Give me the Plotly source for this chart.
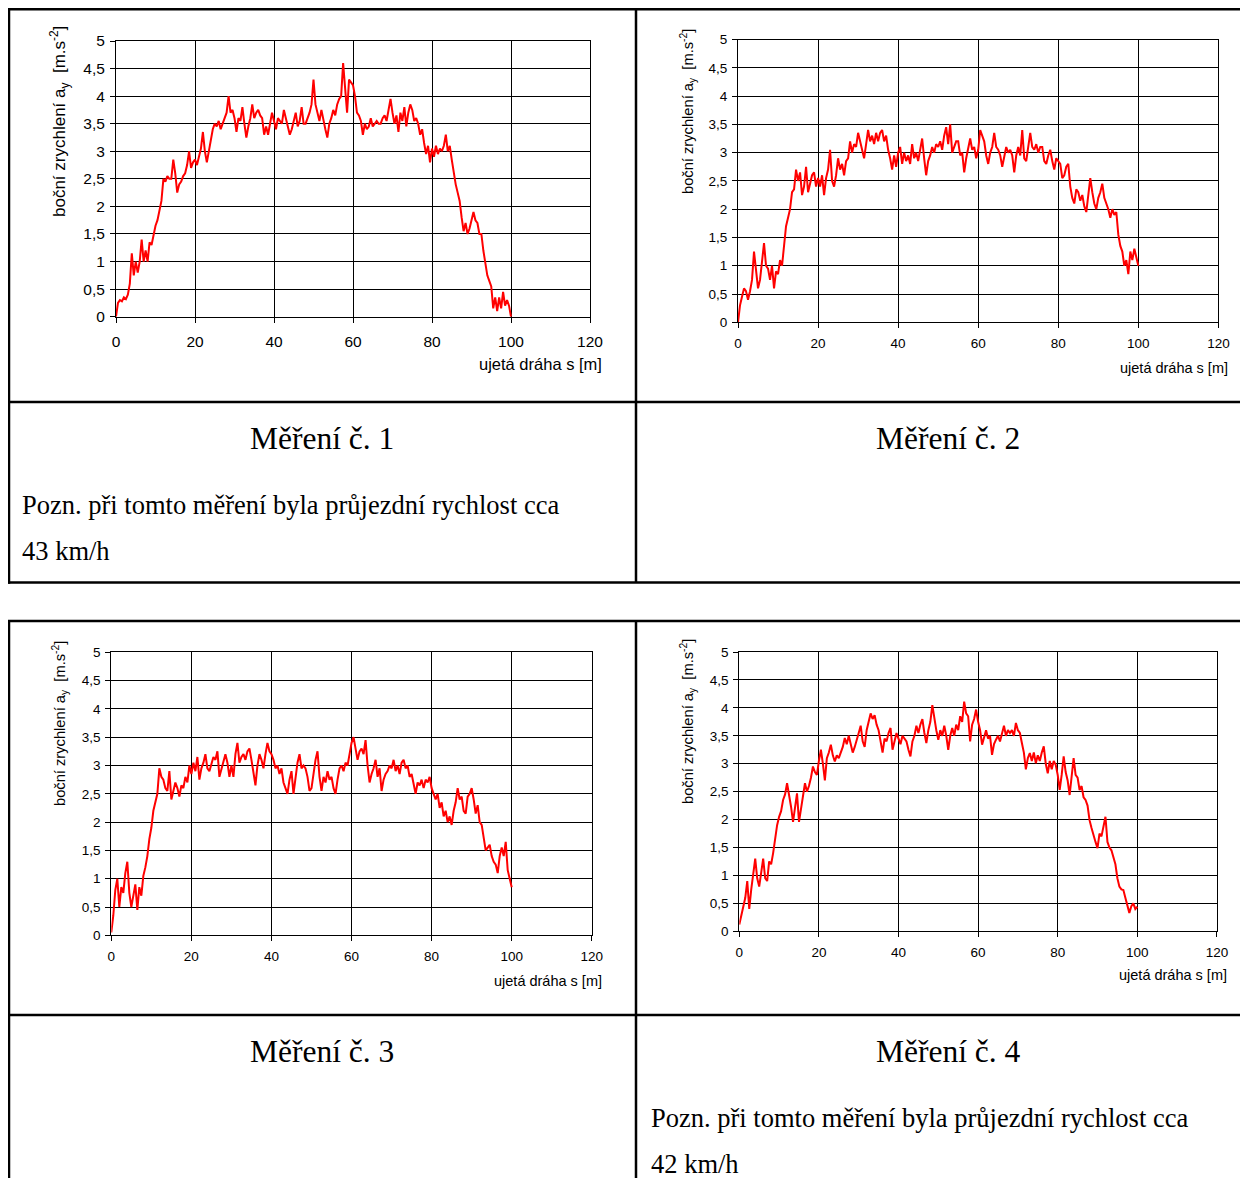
import plotly.graph_objects as go

# ---------------- data ----------------
S_M = [i * 0.5 for i in range(201)]  # ujetá dráha s [m], sample grid

AY_1 = [
    0.0, 0.25, 0.3, 0.28, 0.35, 0.32, 0.4, 0.6, 1.15, 0.75,
    1.0, 0.8, 1.0, 1.4, 1.0, 1.2, 1.0, 1.35, 1.3, 1.5,
    1.65, 1.75, 1.9, 2.1, 2.5, 2.45, 2.55, 2.5, 2.5, 2.85,
    2.6, 2.25, 2.4, 2.45, 2.55, 2.6, 2.75, 3.0, 2.7, 2.8,
    2.85, 2.75, 2.9, 3.05, 3.35, 3.0, 2.8, 3.0, 3.2, 3.4,
    3.5, 3.45, 3.55, 3.4, 3.5, 3.6, 3.7, 4.0, 3.7, 3.75,
    3.6, 3.35, 3.6, 3.55, 3.8, 3.5, 3.25, 3.45, 3.6, 3.85,
    3.6, 3.7, 3.75, 3.65, 3.6, 3.3, 3.45, 3.3, 3.5, 3.7,
    3.55, 3.4, 3.6, 3.55, 3.5, 3.75, 3.6, 3.45, 3.3, 3.4,
    3.55, 3.7, 3.45, 3.55, 3.8, 3.5, 3.5, 3.6, 3.7, 3.85,
    4.3, 3.85, 3.7, 3.55, 3.75, 3.55, 3.4, 3.25, 3.5, 3.6,
    3.75, 3.65, 3.85, 3.95, 4.0, 4.6, 4.1, 3.7, 4.3, 4.25,
    4.2, 4.0, 3.7, 3.65, 3.55, 3.3, 3.5, 3.4, 3.45, 3.6,
    3.45, 3.5, 3.55, 3.5, 3.5, 3.6, 3.65, 3.55, 3.75, 3.95,
    3.7, 3.5, 3.65, 3.35, 3.7, 3.55, 3.8, 3.45, 3.7, 3.85,
    3.75, 3.55, 3.6, 3.5, 3.3, 3.4, 3.15, 2.95, 3.1, 2.8,
    3.05, 2.9, 3.1, 2.95, 3.05, 3.0, 3.1, 3.3, 3.0, 3.1,
    2.85, 2.6, 2.4, 2.25, 2.1, 1.8, 1.55, 1.7, 1.5, 1.6,
    1.75, 1.9, 1.75, 1.7, 1.5, 1.5, 1.2, 0.95, 0.75, 0.65,
    0.55, 0.15, 0.35, 0.1, 0.35, 0.15, 0.45, 0.2, 0.3, 0.2,
    0.0,
]

AY_2 = [
    0.0, 0.3, 0.45, 0.6, 0.55, 0.4, 0.55, 0.75, 1.25, 0.9,
    0.6, 0.75, 1.15, 1.4, 1.0, 0.95, 0.75, 1.0, 0.6, 0.9,
    0.85, 1.1, 1.0, 1.4, 1.7, 1.85, 2.0, 2.3, 2.35, 2.7,
    2.5, 2.65, 2.25, 2.4, 2.75, 2.3, 2.45, 2.6, 2.65, 2.4,
    2.55, 2.4, 2.6, 2.25, 2.55, 2.7, 3.05, 2.5, 2.4, 2.6,
    2.9, 2.7, 2.8, 2.6, 2.85, 2.9, 3.2, 3.0, 3.15, 3.1,
    3.35, 3.2, 3.05, 2.9, 3.15, 3.4, 3.2, 3.3, 3.15, 3.35,
    3.2, 3.35, 3.4, 3.2, 3.3, 3.05, 2.9, 2.7, 2.95, 2.75,
    3.0, 3.1, 2.8, 3.0, 2.85, 2.95, 2.8, 3.15, 2.9, 3.0,
    2.85, 3.05, 3.25, 2.9, 2.6, 2.85, 2.95, 3.1, 3.0, 3.15,
    3.1, 3.2, 3.05, 3.3, 3.45, 3.15, 3.5, 3.0, 3.1, 3.2,
    3.2, 2.95, 3.0, 2.65, 2.9, 3.1, 3.25, 3.05, 3.1, 2.9,
    3.05, 3.4, 3.3, 3.2, 2.95, 2.8, 3.0, 3.1, 3.35, 3.1,
    3.05, 2.95, 2.75, 2.95, 3.1, 3.0, 3.05, 2.95, 2.65, 2.95,
    3.1, 2.95, 3.4, 2.9, 2.85, 3.1, 3.35, 3.1, 3.05, 3.15,
    3.0, 3.1, 3.1, 2.85, 2.8, 2.95, 3.05, 2.85, 2.7, 2.9,
    2.85, 2.8, 2.55, 2.6, 2.75, 2.8, 2.4, 2.2, 2.1, 2.35,
    2.3, 2.15, 2.25, 2.05, 1.95, 2.3, 2.55, 2.3, 2.1, 2.0,
    2.2, 2.3, 2.45, 2.2, 2.1, 2.0, 1.85, 2.0, 1.9, 1.95,
    1.55, 1.35, 1.25, 1.0, 1.1, 0.85, 1.25, 1.1, 1.3, 1.15,
    1.0,
]

AY_3 = [
    0.05, 0.35, 0.8, 1.0, 0.5, 0.85, 0.75, 1.1, 1.3, 0.75,
    0.5, 0.7, 0.9, 0.45, 0.85, 0.7, 1.05, 1.2, 1.4, 1.7,
    1.9, 2.2, 2.35, 2.5, 2.95, 2.8, 2.75, 2.6, 2.55, 2.9,
    2.4, 2.55, 2.7, 2.6, 2.45, 2.65, 2.6, 2.8, 2.7, 3.0,
    2.85, 3.05, 2.9, 3.15, 2.75, 2.95, 3.05, 3.2, 2.95, 2.9,
    3.05, 3.15, 3.1, 3.25, 2.8, 2.95, 3.1, 3.2, 3.05, 2.8,
    3.0, 2.8, 3.2, 3.4, 3.05, 3.15, 3.2, 3.1, 3.25, 3.3,
    3.1, 2.9, 2.65, 3.0, 3.2, 3.1, 2.95, 3.2, 3.4, 3.25,
    3.2, 3.1, 2.95, 3.0, 2.85, 2.95, 2.7, 2.6, 2.5, 2.75,
    2.9, 2.5, 2.8, 3.05, 3.2, 2.95, 3.0, 2.95, 2.8, 2.55,
    2.6, 2.9, 3.1, 3.25, 2.8, 2.55, 2.8, 2.7, 2.9, 2.75,
    2.8, 2.6, 2.5, 2.75, 2.95, 3.0, 2.9, 3.05, 3.0, 3.2,
    3.4, 3.5, 3.3, 3.1, 3.25, 3.3, 3.2, 3.45, 3.0, 2.7,
    2.85, 2.95, 3.1, 2.8, 2.95, 2.55, 2.75, 2.85, 2.9, 3.0,
    2.95, 3.1, 2.9, 3.0, 2.85, 3.05, 3.1, 2.95, 3.0, 2.8,
    2.85, 2.65, 2.5, 2.7, 2.65, 2.75, 2.6, 2.75, 2.7, 2.8,
    2.6, 2.5, 2.4, 2.5, 2.25, 2.35, 2.1, 2.2, 2.0, 2.1,
    1.95, 2.2, 2.35, 2.6, 2.4, 2.45, 2.2, 2.15, 2.45, 2.5,
    2.6, 2.4, 2.15, 2.3, 2.0, 1.95, 1.7, 1.5, 1.55, 1.6,
    1.4, 1.3, 1.25, 1.1, 1.4, 1.55, 1.4, 1.65, 1.15, 1.0,
    0.85,
]

AY_4 = [
    0.12, 0.3, 0.47, 0.6, 0.9, 0.4, 0.75, 1.05, 1.3, 0.95,
    0.8, 1.05, 1.3, 0.95, 0.9, 1.25, 1.2, 1.4, 1.7, 1.9,
    2.05, 2.15, 2.35, 2.45, 2.65, 2.45, 2.23, 1.96, 2.2, 2.47,
    1.96, 2.2, 2.4, 2.65, 2.5, 2.6, 2.75, 2.95, 2.85, 2.8,
    3.05, 3.25, 3.0, 2.7, 3.1, 3.2, 3.34, 3.15, 3.04, 3.15,
    3.1, 3.2, 3.3, 3.46, 3.35, 3.5, 3.35, 3.2, 3.3, 3.45,
    3.55, 3.68, 3.4, 3.3, 3.6, 3.75, 3.9, 3.8, 3.87, 3.7,
    3.6, 3.4, 3.2, 3.45, 3.4, 3.55, 3.64, 3.25, 3.4, 3.55,
    3.45, 3.35, 3.5, 3.45, 3.4, 3.25, 3.13, 3.4, 3.5, 3.68,
    3.55, 3.7, 3.8, 3.55, 3.37, 3.6, 3.75, 4.05, 3.8, 3.6,
    3.43, 3.6, 3.5, 3.68, 3.5, 3.25, 3.5, 3.64, 3.5, 3.7,
    3.6, 3.85, 3.75, 4.11, 3.9, 3.85, 3.4, 3.7, 3.8, 3.97,
    3.75, 3.6, 3.34, 3.5, 3.6, 3.45, 3.5, 3.16, 3.35, 3.43,
    3.5, 3.4, 3.55, 3.68, 3.5, 3.6, 3.55, 3.6, 3.5, 3.73,
    3.6, 3.55, 3.37, 3.2, 2.9, 3.1, 3.19, 3.05, 3.2, 3.01,
    3.15, 3.05, 3.2, 3.31, 3.0, 2.83, 3.05, 2.9, 3.05, 2.98,
    2.8, 2.53, 2.8, 3.13, 2.85, 2.7, 2.44, 2.8, 3.1, 2.8,
    2.75, 2.53, 2.6, 2.4, 2.35, 2.25, 1.99, 1.85, 1.7, 1.6,
    1.49, 1.75, 1.7, 1.85, 2.05, 1.6, 1.5, 1.45, 1.34, 1.2,
    0.95, 0.8, 0.75, 0.74, 0.6, 0.45, 0.33, 0.45, 0.5, 0.4,
    0.44,
]

SERIES = [AY_1, AY_2, AY_3, AY_4]
TITLES = ["Měření č. 1", "Měření č. 2", "Měření č. 3", "Měření č. 4"]
NOTE_1 = ["Pozn. při tomto měření byla průjezdní rychlost cca", "43 km/h"]
NOTE_4 = ["Pozn. při tomto měření byla průjezdní rychlost cca", "42 km/h"]

X_TICK_VALS = [0, 20, 40, 60, 80, 100, 120]
X_TICK_TEXT = ["0", "20", "40", "60", "80", "100", "120"]
Y_TICK_VALS = [0, 0.5, 1, 1.5, 2, 2.5, 3, 3.5, 4, 4.5, 5]
Y_TICK_TEXT = ["0", "0,5", "1", "1,5", "2", "2,5", "3", "3,5", "4", "4,5", "5"]

Y_TITLE = "boční zrychlení a<sub>y</sub>  [m.s<sup>-2</sup>]"
X_TITLE = "ujetá dráha s [m]"

# ---------------- layout geometry (window pixels) ----------------
OFF = 8                     # default body margin of the page
W, H = 1248 - 2 * OFF, 1186 - 2 * OFF


def fx(X):
    return (X - OFF) / W


def fy(Y):
    return 1 - (Y - OFF) / H


PANELS = [
    dict(l=116, r=590, t=41, b=316.7, fs=15.5, std=6, yt=(60, 122, 17), xt=(604, 364, 16.5)),
    dict(l=738, r=1218.4, t=39.5, b=322.3, fs=13.5, std=3, yt=(688, 112, 14.7), xt=(1230, 368, 14.5)),
    dict(l=111.3, r=591.8, t=652.3, b=935.3, fs=13.5, std=3, yt=(60, 724, 14.7), xt=(604, 981, 14.5)),
    dict(l=739.3, r=1216.9, t=652, b=931.3, fs=13.5, std=3, yt=(688, 722, 14.7), xt=(1229, 975, 14.5)),
]

SANS = "Liberation Sans, Arial, sans-serif"
SERIF = "Liberation Serif, Times New Roman, serif"

fig = go.Figure()
layout = dict(
    width=W, height=H,
    margin=dict(l=0, r=0, t=0, b=0, pad=0, autoexpand=False),
    paper_bgcolor="white", plot_bgcolor="white",
    showlegend=False,
    annotations=[], shapes=[],
)

for i, (p, ser) in enumerate(zip(PANELS, SERIES)):
    n = "" if i == 0 else str(i + 1)
    fig.add_trace(go.Scatter(
        x=S_M, y=ser, mode="lines",
        line=dict(color="#FF0000", width=2),
        xaxis="x" + n, yaxis="y" + n, hoverinfo="skip",
    ))
    common = dict(
        showgrid=True, gridcolor="#000000", gridwidth=1,
        showline=True, linecolor="#000000", linewidth=1, mirror=True,
        ticks="outside", ticklen=5, tickcolor="#000000", tickwidth=1,
        zeroline=False, fixedrange=True, automargin=False,
        tickfont=dict(family=SANS, size=p["fs"], color="#000000"),
    )
    layout["xaxis" + n] = dict(
        common, domain=[fx(p["l"]), fx(p["r"])], range=[0, 120],
        tickvals=X_TICK_VALS, ticktext=X_TICK_TEXT,
        anchor="y" + n, ticklabelstandoff=p["std"],
    )
    layout["yaxis" + n] = dict(
        common, domain=[fy(p["b"]), fy(p["t"])], range=[0, 5],
        tickvals=Y_TICK_VALS, ticktext=Y_TICK_TEXT,
        anchor="x" + n, ticklabelstandoff=2,
    )
    yx, yy, ys = p["yt"]
    layout["annotations"].append(dict(
        text=Y_TITLE, x=fx(yx), y=fy(yy), xref="paper", yref="paper",
        xanchor="center", yanchor="middle", textangle=-90, showarrow=False,
        font=dict(family=SANS, size=ys, color="#000000"),
    ))
    xx, xy, xs = p["xt"]
    layout["annotations"].append(dict(
        text=X_TITLE, x=fx(xx), y=fy(xy), xref="paper", yref="paper",
        xanchor="right", yanchor="middle", showarrow=False,
        font=dict(family=SANS, size=xs, color="#000000"),
    ))

TITLE_POS = [(321.5, 438), (948, 438), (321.5, 1051), (948, 1051)]
for t, (X, Y) in zip(TITLES, TITLE_POS):
    layout["annotations"].append(dict(
        text=t, x=fx(X), y=fy(Y), xref="paper", yref="paper",
        xanchor="center", yanchor="middle", showarrow=False,
        font=dict(family=SERIF, size=31.5, color="#000000"),
    ))

for lines, X0, Y0 in [(NOTE_1, 20, 505), (NOTE_4, 649, 1118)]:
    for k, line in enumerate(lines):
        layout["annotations"].append(dict(
            text=line, x=fx(X0), y=fy(Y0 + 46 * k), xref="paper", yref="paper",
            xanchor="left", yanchor="middle", showarrow=False,
            font=dict(family=SERIF, size=26.5, color="#000000"),
        ))


def hline(Y, X0=9, X1=1260):
    return dict(type="line", xref="paper", yref="paper", x0=fx(X0), x1=fx(X1),
                y0=fy(Y), y1=fy(Y), line=dict(color="#000000", width=2.5))


def vline(X, Y0, Y1):
    return dict(type="line", xref="paper", yref="paper", x0=fx(X), x1=fx(X),
                y0=fy(Y0), y1=fy(Y1), line=dict(color="#000000", width=2.5))


layout["shapes"] = [
    hline(9.2, X0=7.8), hline(402), hline(582.5, X0=7.8),
    vline(9, 8, 583.7), vline(636, 8, 582.5),
    hline(621, X0=7.8), hline(1015),
    vline(9, 620, 1200), vline(636, 621, 1200),
]

fig.update_layout(**layout)
fig.write_html("out.html", config={"displayModeBar": False})
